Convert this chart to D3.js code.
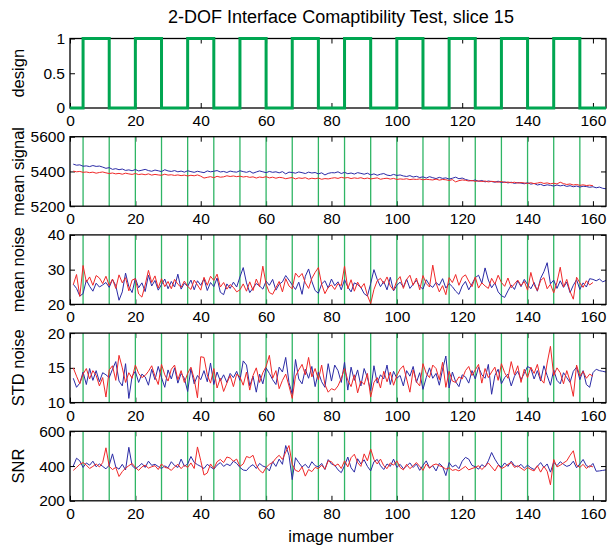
<!DOCTYPE html>
<html>
<head>
<meta charset="utf-8">
<script src="https://cdn.jsdelivr.net/npm/d3@7"></script>
<style>
body { margin: 0; background: #fff; }
text { font-family: "Liberation Sans", Arial, sans-serif; fill: #000; }
</style>
</head>
<body>
<svg id="chart" width="608" height="546"></svg>
<script>
// x axis
var imageTicks = [0, 20, 40, 60, 80, 100, 120, 140, 160];

// design blocks (image numbers where the stimulus goes on / off)
var designOnsets = [4, 20, 36, 52, 68, 84, 100, 116, 132, 148];
var designOffsets = [12, 28, 44, 60, 76, 92, 108, 124, 140, 156];

var signalBlue = [
	5442, 5436, 5438, 5430, 5432, 5428, 5434, 5429, 5431, 5425,
	5418, 5422, 5412, 5416, 5410, 5414, 5406, 5409, 5404, 5411,
	5403, 5407, 5412, 5405, 5401, 5408, 5404, 5399, 5410, 5403,
	5400, 5405, 5398, 5402, 5396, 5404, 5399, 5395, 5401, 5397,
	5393, 5403, 5398, 5401, 5405, 5397, 5400, 5394, 5402, 5398,
	5396, 5404, 5399, 5395, 5401, 5390, 5397, 5403, 5398, 5393,
	5400, 5395, 5398, 5392, 5399, 5386, 5396, 5394, 5390, 5397,
	5393, 5388, 5396, 5391, 5394, 5386, 5392, 5380, 5389, 5393,
	5392, 5398, 5388, 5395, 5387, 5391, 5385, 5393, 5389, 5384,
	5390, 5380, 5386, 5378, 5384, 5388, 5379, 5376, 5383, 5377,
	5380, 5374, 5371, 5376, 5368, 5372, 5365, 5369, 5362, 5370,
	5364, 5359, 5366, 5360, 5363, 5356, 5361, 5367, 5358, 5362,
	5354, 5349, 5346, 5351, 5343, 5348, 5340, 5345, 5342, 5338,
	5344, 5336, 5340, 5334, 5338, 5331, 5336, 5333, 5329, 5335,
	5327, 5331, 5322, 5326, 5318, 5323, 5320, 5316, 5322, 5317,
	5321, 5314, 5318, 5312, 5316, 5310, 5315, 5313, 5309, 5312,
	5306, 5310, 5303, 5300
];
var signalRed = [
	5402, 5398, 5400, 5395, 5397, 5393, 5396, 5390, 5394, 5397,
	5392, 5388, 5391, 5386, 5389, 5384, 5390, 5386, 5383, 5388,
	5382, 5385, 5381, 5386, 5379, 5383, 5380, 5378, 5384, 5379,
	5381, 5377, 5380, 5376, 5379, 5374, 5378, 5375, 5380, 5373,
	5362, 5366, 5370, 5364, 5372, 5367, 5369, 5375, 5371, 5374,
	5370, 5373, 5368, 5371, 5366, 5369, 5362, 5368, 5365, 5370,
	5363, 5367, 5361, 5366, 5364, 5358, 5362, 5365, 5357, 5363,
	5360, 5364, 5356, 5361, 5358, 5362, 5355, 5359, 5357, 5361,
	5364, 5360, 5366, 5362, 5365, 5359, 5363, 5360, 5364, 5358,
	5362, 5357, 5360, 5363, 5355, 5359, 5361, 5356, 5360, 5354,
	5357, 5355, 5358, 5353, 5356, 5354, 5357, 5352, 5355, 5353,
	5351, 5356, 5350, 5354, 5352, 5348, 5353, 5340, 5347, 5351,
	5349, 5345, 5348, 5343, 5346, 5342, 5345, 5340, 5343, 5341,
	5338, 5342, 5336, 5339, 5335, 5338, 5333, 5336, 5334, 5331,
	5335, 5330, 5333, 5337, 5331, 5334, 5329, 5332, 5328, 5338,
	5330, 5325, 5328, 5322, 5325, 5320, 5323, 5319, 5321, 5318
];

var noiseBlue = [
	25.8, 24.6, 22.4, 23.1, 27.0, 25.2, 23.8, 26.1, 25.0, 25.6,
	26.3, 24.9, 27.2, 25.4, 21.2, 23.6, 29.0, 25.1, 23.4, 27.5,
	24.8, 26.2, 23.7, 28.4, 25.3, 26.9, 24.1, 25.7, 27.3, 24.5,
	26.6, 25.0, 28.7, 24.4, 26.1, 25.2, 27.0, 24.2, 26.8, 25.5,
	27.4, 24.0, 26.3, 25.1, 27.6, 23.5, 22.8, 25.9, 24.6, 26.4,
	25.0, 27.9, 30.6, 26.2, 23.4, 24.7, 26.0, 25.3, 24.4, 26.7,
	25.5, 27.2, 24.1, 25.8, 26.5, 28.3, 27.0, 25.6, 24.3, 26.4,
	22.9, 28.1, 30.2, 26.6, 24.0, 23.2, 25.9, 26.8, 24.7, 27.3,
	25.4, 26.5, 24.2, 27.1, 25.0, 23.6, 26.2, 25.7, 24.9, 23.1,
	22.4, 26.0, 30.0, 27.2, 25.1, 26.6, 24.2, 27.8, 23.9, 25.5,
	26.4, 25.0, 27.3, 24.6, 25.8, 26.9, 25.2, 24.4, 27.1, 25.6,
	24.9, 26.3, 25.5, 27.4, 24.7, 26.0, 25.1, 23.8, 22.9, 25.3,
	26.6, 24.2, 25.9, 27.7, 28.4, 26.1, 30.5, 27.0, 24.8, 26.2,
	23.6, 22.5, 22.0, 23.9, 25.6, 24.3, 26.8, 25.1, 27.2, 25.7,
	24.5, 26.3, 23.8, 27.5, 29.4, 32.0, 25.9, 27.0, 24.6, 26.8,
	24.9, 26.4, 23.4, 25.5, 27.1, 24.3, 26.2, 25.0, 27.4, 27.2,
	26.8, 27.3, 26.5, 26.9
];
var noiseRed = [
	25.7, 28.6, 22.3, 31.2, 26.4, 27.9, 25.5, 28.3, 27.6, 26.0,
	28.1, 25.4, 27.3, 24.6, 28.5, 26.2, 27.7, 23.9, 27.0, 27.4,
	23.0, 22.1, 25.6, 29.8, 26.3, 28.2, 24.7, 27.4, 25.1, 26.6,
	24.5, 27.2, 25.8, 24.9, 26.7, 25.2, 24.3, 27.0, 25.6, 24.1,
	27.8, 25.5, 28.1, 26.9, 28.7, 25.0, 26.3, 24.4, 25.7, 24.9,
	23.6, 24.2, 25.9, 23.8, 26.5, 24.0, 27.3, 25.1, 31.0, 25.8,
	23.4, 22.9, 24.8, 26.6, 23.6, 27.4, 25.3, 24.5, 29.0, 27.8,
	28.9, 26.2, 24.6, 27.5, 29.2, 30.6, 25.8, 23.1, 24.9, 25.6,
	24.3, 26.0, 25.4, 31.0, 24.5, 27.1, 23.8, 26.4, 24.7, 26.0,
	22.6, 20.2, 24.3, 26.8, 27.5, 26.0, 27.9, 25.3, 24.1, 26.8,
	28.0, 24.6, 27.2, 28.4, 25.5, 27.6, 24.2, 28.3, 26.0, 25.0,
	31.3, 26.1, 23.6, 25.4, 22.8, 27.7, 26.3, 28.6, 25.5, 27.8,
	28.5, 26.7, 25.1, 27.9, 24.7, 26.2, 25.3, 24.6, 27.5, 25.8,
	28.4, 26.3, 25.2, 27.6, 24.8, 25.9, 27.0, 25.4, 26.6, 24.1,
	29.2, 25.6, 24.0, 26.9, 27.7, 24.5, 25.8, 23.3, 26.4, 30.7,
	25.0, 27.2, 23.7, 21.5, 27.8, 26.2, 24.9, 26.8, 25.6, 26.3
];

var stdBlue = [
	13.5, 12.2, 12.8, 14.4, 12.6, 14.9, 13.2, 14.6, 13.0, 14.3,
	14.0, 13.6, 14.8, 15.9, 13.1, 12.4, 15.6, 10.6, 13.8, 14.5,
	12.9, 14.1, 13.7, 12.5, 14.8, 13.3, 15.2, 13.6, 12.2, 14.7,
	13.4, 15.0, 12.8, 14.2, 13.5, 11.6, 14.9, 12.7, 13.9, 13.3,
	14.6, 13.0, 15.7, 12.6, 14.4, 13.1, 14.0, 12.9, 14.2, 13.6,
	14.5, 13.2, 16.0, 15.4, 12.4, 13.8, 11.5, 14.1, 12.7, 15.0,
	14.2, 13.3, 12.6, 15.1, 14.4, 16.5, 12.9, 11.2, 16.2, 13.4,
	12.7, 14.8, 13.5, 15.2, 12.3, 14.4, 13.0, 12.2, 15.6, 13.1,
	15.4, 14.6, 12.9, 15.8, 11.8, 15.1, 13.2, 14.7, 12.4, 14.9,
	13.6, 11.7, 15.3, 12.8, 14.0, 13.4, 15.4, 12.6, 14.5, 13.5,
	13.9, 12.4, 14.6, 13.8, 15.2, 12.9, 14.3, 11.9, 13.6, 15.0,
	13.5, 14.2, 12.5, 14.8, 16.7, 12.1, 14.4, 13.0, 12.3, 14.0,
	13.7, 12.8, 14.6, 13.4, 15.1, 14.0, 13.5, 15.5, 11.2, 13.9,
	14.8, 12.7, 13.6, 14.1, 12.4, 13.8, 14.5, 13.3, 14.2, 15.2,
	14.9, 13.4, 14.6, 13.1, 15.3, 13.9, 12.5, 14.7, 13.2, 12.7,
	14.3, 13.6, 12.9, 14.5, 15.1, 13.3, 14.6, 12.6, 12.2, 14.3,
	14.8, 14.6, 14.5, 14.4
];
var stdRed = [
	15.0, 13.8, 12.7, 14.1, 14.9, 13.4, 14.6, 13.9, 12.4, 13.6,
	10.8, 14.7, 15.3, 13.2, 16.8, 15.0, 12.9, 14.3, 13.5, 15.4,
	14.2, 13.6, 13.9, 14.5, 15.3, 13.8, 12.6, 15.5, 14.0, 13.1,
	14.8, 15.4, 13.3, 14.6, 12.9, 14.2, 15.1, 13.4, 10.7, 16.6,
	16.5, 14.0, 12.8, 14.9, 12.1, 13.5, 11.6, 12.8, 13.9, 12.3,
	14.1, 13.7, 12.5, 14.4, 11.8, 13.9, 15.0, 12.9, 14.3, 15.2,
	16.8, 13.5, 14.6, 12.0, 13.2, 14.1, 12.4, 10.6, 13.8, 14.7,
	15.5, 14.0, 16.5, 13.7, 14.9, 13.3, 15.4, 12.6, 11.5, 12.0,
	11.8, 12.4, 13.5, 14.9, 13.2, 12.3, 14.0, 11.4, 13.1, 12.6,
	14.2, 10.8, 12.9, 13.6, 12.1, 14.5, 13.0, 14.4, 12.5, 13.9,
	14.8, 15.3, 13.4, 11.5, 14.7, 13.0, 12.4, 15.6, 14.2, 13.6,
	15.4, 14.9, 13.3, 15.8, 12.2, 14.5, 13.1, 12.9, 13.7, 13.4,
	14.6, 15.2, 13.9, 14.7, 15.5, 12.8, 14.9, 13.6, 14.4, 15.1,
	13.2, 15.6, 14.3, 13.5, 15.9, 14.0, 15.3, 12.9, 14.8, 13.6,
	15.1, 14.2, 15.5, 13.4, 12.8, 15.7, 18.1, 13.9, 15.0, 14.3,
	12.7, 14.6, 13.1, 10.9, 15.4, 13.8, 14.5, 13.5, 14.1, 13.8
];

var snrBlue = [
	400, 445, 430, 392, 418, 405, 428, 396, 412, 398,
	384, 405, 470, 395, 382, 410, 378, 508, 402, 385,
	398, 415, 392, 428, 404, 410, 397, 386, 401, 390,
	425, 403, 392, 440, 399, 412, 455, 421, 408, 398,
	386, 410, 395, 382, 405, 420, 398, 412, 402, 428,
	415, 392, 377, 374, 396, 408, 386, 415, 400, 393,
	372, 425, 398, 440, 410, 518, 462, 322, 448, 420,
	395, 410, 388, 425, 402, 395, 415, 380, 437, 412,
	405, 378, 362, 402, 452, 390, 365, 442, 412, 436,
	398, 372, 425, 438, 402, 380, 412, 398, 440, 392,
	410, 385, 400, 418, 392, 412, 375, 404, 430, 389,
	402, 372, 415, 397, 345, 420, 395, 406, 385, 428,
	450, 440, 404, 396, 382, 408, 395, 430, 478, 440,
	410, 392, 418, 398, 428, 402, 395, 410, 388, 405,
	390, 380, 398, 420, 392, 412, 365, 422, 402, 425,
	410, 398, 405, 428, 390, 412, 438, 402, 394, 415,
	370, 372, 375, 378
];
var snrRed = [
	375, 392, 410, 420, 405, 386, 398, 412, 395, 420,
	505, 398, 380, 392, 340, 368, 388, 402, 415, 392,
	375, 395, 405, 388, 396, 402, 380, 412, 392, 388,
	375, 395, 410, 385, 405, 392, 418, 386, 510, 432,
	348, 360, 412, 385, 425, 438, 420, 452, 446, 428,
	440, 398, 412, 455, 448, 462, 405, 375, 360, 392,
	410, 420, 445, 462, 438, 480, 518, 410, 375, 368,
	395, 342, 380, 368, 392, 385, 405, 382, 430, 425,
	400, 412, 386, 430, 395, 448, 468, 420, 398, 470,
	430, 498, 438, 412, 440, 402, 385, 418, 405, 430,
	392, 378, 410, 385, 402, 420, 398, 375, 412, 388,
	405, 412, 402, 395, 382, 390, 375, 380, 372, 385,
	398, 378, 386, 392, 402, 380, 398, 418, 395, 372,
	405, 385, 395, 410, 420, 392, 402, 388, 375, 392,
	380, 372, 402, 365, 398, 370, 292, 438, 395, 405,
	418, 430, 462, 488, 405, 392, 410, 386, 402, 395
];

var panelLabels = ["design", "mean signal", "mean noise", "STD noise", "SNR"];
var panelDomains = [[0, 1], [5200, 5600], [20, 40], [10, 20], [200, 600]];
var panelTicks = [[0, 0.5, 1], [5200, 5400, 5600], [20, 30, 40], [10, 15, 20], [200, 400, 600]];

var left = 70,
	right = 606,
	panelTop = 38.5,
	panelStep = 98.2,
	panelHeight = 69.5,
	blue = "#2b2ba6",
	red = "#f02828",
	green = "#00a651";

var svg = d3.select("#chart");

var x = d3.scaleLinear().domain([0, 164]).range([left, right]);

svg.append("text")
	.attr("x", 341)
	.attr("y", 23)
	.attr("text-anchor", "middle")
	.style("font-size", "18px")
	.text("2-DOF Interface Comaptibility Test, slice 15");

svg.append("text")
	.attr("x", 341)
	.attr("y", 542)
	.attr("text-anchor", "middle")
	.style("font-size", "16.5px")
	.text("image number");

// design trace as a list of corner points
var designPoints = [[0, 0]];
designOnsets.forEach(function(on, i) {
	designPoints.push([on, 0], [on, 1], [designOffsets[i], 1], [designOffsets[i], 0]);
});
designPoints.push([164, 0]);

var edges = designOnsets.concat(designOffsets).sort(d3.ascending);

var seriesBlue = [null, signalBlue, noiseBlue, stdBlue, snrBlue];
var seriesRed = [null, signalRed, noiseRed, stdRed, snrRed];

function styleAxis(sel) {
	sel.select(".domain").remove();
	sel.selectAll(".tick line").attr("stroke", "#000").attr("stroke-width", 1);
	sel.selectAll(".tick text")
		.style("font-size", "15.5px")
		.style("font-family", "\"Liberation Sans\", Arial, sans-serif")
		.attr("fill", "#000");
}

function drawPanel(p) {
	var top = panelTop + p * panelStep,
		bottom = top + panelHeight,
		y = d3.scaleLinear().domain(panelDomains[p]).range([bottom, top]),
		g = svg.append("g");

	g.append("g")
		.attr("transform", "translate(0," + bottom + ")")
		.call(d3.axisBottom(x).tickValues(imageTicks).tickSizeInner(-5).tickSizeOuter(0).tickPadding(7))
		.call(styleAxis);
	g.append("g")
		.attr("transform", "translate(0," + top + ")")
		.call(d3.axisTop(x).tickValues(imageTicks).tickSizeInner(-5).tickSizeOuter(0).tickFormat(""))
		.call(styleAxis);
	g.append("g")
		.attr("transform", "translate(" + left + ",0)")
		.call(d3.axisLeft(y).tickValues(panelTicks[p]).tickSizeInner(-5).tickSizeOuter(0).tickPadding(5)
			.tickFormat(d3.format("")))
		.call(styleAxis);
	g.append("g")
		.attr("transform", "translate(" + right + ",0)")
		.call(d3.axisRight(y).tickValues(panelTicks[p]).tickSizeInner(-5).tickSizeOuter(0).tickFormat(""))
		.call(styleAxis);

	g.append("text")
		.attr("transform", "translate(24," + (top + panelHeight / 2) + ") rotate(-90)")
		.attr("text-anchor", "middle")
		.style("font-size", "16.5px")
		.text(panelLabels[p]);

	if (p === 0) {
		g.append("path")
			.datum(designPoints)
			.attr("fill", "none")
			.attr("stroke", green)
			.attr("stroke-width", 3)
			.attr("d", d3.line().x(function(d) { return x(d[0]); }).y(function(d) { return y(d[1]); }));
	} else {
		g.selectAll("line.edge")
			.data(edges)
			.enter().append("line")
			.attr("class", "edge")
			.attr("x1", function(d) { return x(d); })
			.attr("x2", function(d) { return x(d); })
			.attr("y1", top)
			.attr("y2", bottom)
			.attr("stroke", "#2fb565")
			.attr("stroke-width", 1.3);

		var line = d3.line()
			.x(function(d, i) { return x(i + 1); })
			.y(function(d) { return y(d); });

		g.append("path")
			.datum(seriesBlue[p])
			.attr("fill", "none")
			.attr("stroke", blue)
			.attr("stroke-width", 1)
			.attr("d", line);
		g.append("path")
			.datum(seriesRed[p])
			.attr("fill", "none")
			.attr("stroke", red)
			.attr("stroke-width", 1)
			.attr("d", line);
	}

	// box drawn last so the frame sits over the traces, except the design line
	g.insert("rect", p === 0 ? "path" : null)
		.attr("x", left).attr("y", top)
		.attr("width", right - left).attr("height", panelHeight)
		.attr("fill", "none").attr("stroke", "#000").attr("stroke-width", 1.3);
}

for (var p = 0; p < 5; p++) {
	drawPanel(p);
}
</script>
</body>
</html>
